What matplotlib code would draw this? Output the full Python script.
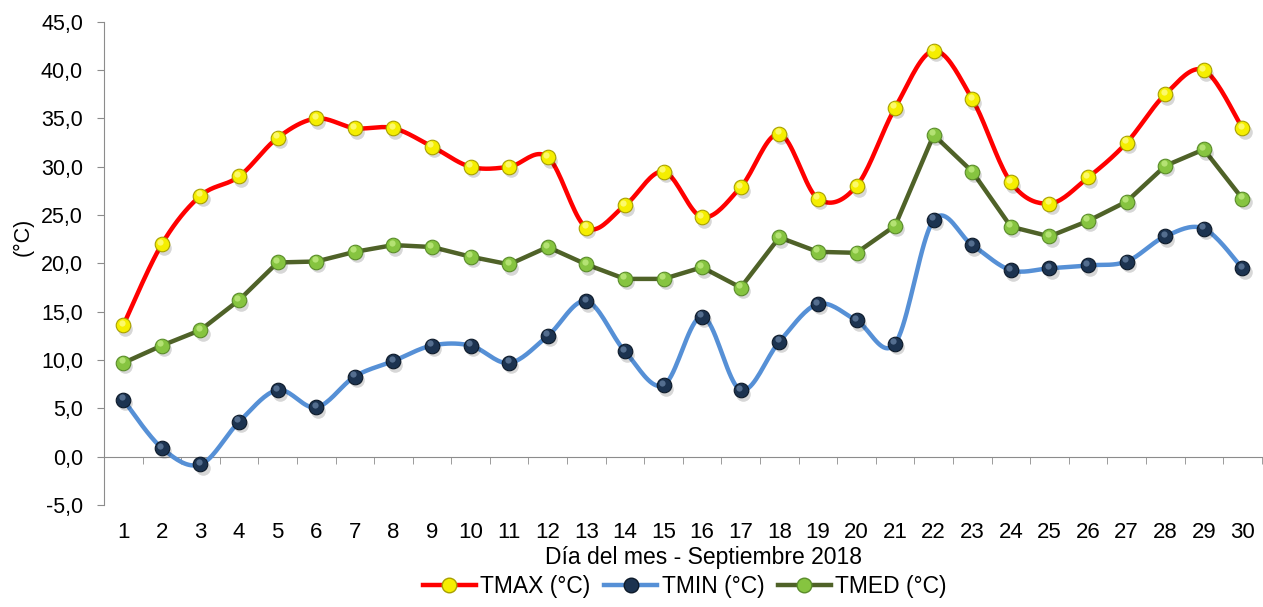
import numpy as np
import matplotlib
matplotlib.use("Agg")
import matplotlib.pyplot as plt
from matplotlib.ticker import FuncFormatter, FixedLocator
from matplotlib.lines import Line2D
import matplotlib.transforms as mtrans

plt.rcParams['font.family'] = ['Liberation Sans', 'DejaVu Sans']

# datos
dias = list(range(1, 31))
tmax = [13.6, 22.0, 27.0, 29.0, 33.0, 35.0, 34.0, 34.0, 32.1, 30.0,
        30.0, 31.0, 23.7, 26.0, 29.5, 24.8, 27.9, 33.4, 26.7, 28.0,
        36.1, 42.0, 37.0, 28.4, 26.2, 28.9, 32.5, 37.5, 40.0, 34.0]
tmin = [5.9, 0.9, -0.8, 3.6, 6.9, 5.1, 8.3, 9.9, 11.5, 11.5,
        9.7, 12.5, 16.1, 10.9, 7.4, 14.5, 6.9, 11.9, 15.8, 14.1,
        11.7, 24.5, 21.9, 19.3, 19.5, 19.8, 20.2, 22.8, 23.6, 19.5]
tmed = [9.7, 11.5, 13.1, 16.2, 20.1, 20.2, 21.2, 21.9, 21.7, 20.7,
        19.9, 21.7, 19.9, 18.4, 18.4, 19.6, 17.5, 22.7, 21.2, 21.1,
        23.9, 33.3, 29.5, 23.8, 22.8, 24.4, 26.4, 30.1, 31.8, 26.7]
series_names = ['TMAX (°C)', 'TMIN (°C)', 'TMED (°C)']


# linea suavizada tipo Excel (Catmull-Rom entre los puntos)
def suavizar(x, y, n=20):
    x = np.asarray(x, float)
    y = np.asarray(y, float)
    px = np.concatenate([[x[0]], x, [x[-1]]])
    py = np.concatenate([[y[0]], y, [y[-1]]])
    xs, ys = [], []
    t = np.linspace(0, 1, n, endpoint=False)
    for i in range(1, len(px) - 2):
        p0, p1, p2, p3 = (np.array([px[j], py[j]]) for j in range(i - 1, i + 3))
        c1 = p1 + (p2 - p0) / 6.0
        c2 = p2 - (p3 - p1) / 6.0
        pts = ((1 - t) ** 3)[:, None] * p1 + (3 * (1 - t) ** 2 * t)[:, None] * c1 \
            + (3 * (1 - t) * t ** 2)[:, None] * c2 + (t ** 3)[:, None] * p2
        xs.extend(pts[:, 0])
        ys.extend(pts[:, 1])
    xs.append(x[-1])
    ys.append(y[-1])
    return np.array(xs), np.array(ys)


fig = plt.figure(figsize=(12.63, 6.07), dpi=100)
ax = fig.add_axes([0.0823, 0.168, 0.9167, 0.796])

MS = 10.5

# marcadores con brillo
def bolitas(x, y, cara, borde, brillo, z):
    ax.plot(x, y, 'o', ms=MS, mfc='#00000028', mec='none', zorder=z,
            transform=ax.transData + mtrans.ScaledTranslation(1.5 / 72, -2.5 / 72, fig.dpi_scale_trans))
    ax.plot(x, y, 'o', ms=MS, mfc=cara, mec=borde, mew=0.8, zorder=z + 0.1)
    ax.plot(x, y, 'o', ms=4.5, mfc=brillo, mec='none', alpha=0.7, zorder=z + 0.2,
            transform=ax.transData + mtrans.ScaledTranslation(-1.2 / 72, 1.8 / 72, fig.dpi_scale_trans))

sx, sy = suavizar(dias, tmax)
ax.plot(sx, sy, color='#ff0000', lw=3.2, zorder=3, solid_capstyle='round')
bolitas(dias, tmax, '#f5ee00', '#a8a000', '#ffff9a', 4)

sx, sy = suavizar(dias, tmin)
ax.plot(sx, sy, color='#5690d6', lw=3.2, zorder=3, solid_capstyle='round')
bolitas(dias, tmin, '#1c3350', '#0d1a2a', '#6d88aa', 4)

ax.plot(dias, tmed, color='#4f6228', lw=3.2, zorder=3)
bolitas(dias, tmed, '#86c440', '#5a8c2a', '#c8f08a', 4)

ax.set_xlim(0.5, 30.5)
ax.set_ylim(-5, 45)
ax.set_yticks(np.arange(-5, 46, 5))
ax.yaxis.set_major_formatter(FuncFormatter(lambda v, p: f"{v:.1f}".replace('.', ',')))

ax.spines['top'].set_visible(False)
ax.spines['right'].set_visible(False)
ax.spines['left'].set_color('#8c8c8c')
ax.spines['bottom'].set_color('#8c8c8c')
ax.spines['bottom'].set_position(('data', 0))

ax.xaxis.set_major_locator(FixedLocator(dias))
ax.xaxis.set_minor_locator(FixedLocator(np.arange(0.5, 31, 1)))
ax.tick_params(axis='x', which='major', length=0, pad=47, labelsize=16)
ax.tick_params(axis='x', which='minor', length=5, color='#8c8c8c')
ax.tick_params(axis='y', length=5, color='#8c8c8c', labelsize=15.5, pad=10)

ax.set_xlabel('Día del mes - Septiembre 2018', fontsize=16.5)
ax.xaxis.label.set_va('center')
ax.xaxis.set_label_coords(0.518, -0.108)
ax.set_ylabel('(°C)', fontsize=15.5)
ax.yaxis.label.set_va('center')
ax.yaxis.set_label_coords(-0.07, 0.555)

handles = [
    Line2D([], [], color='#ff0000', lw=3.2, marker='o', ms=MS, mfc='#f5ee00', mec='#a8a000'),
    Line2D([], [], color='#5690d6', lw=3.2, marker='o', ms=MS, mfc='#1c3350', mec='#0d1a2a'),
    Line2D([], [], color='#4f6228', lw=3.2, marker='o', ms=MS, mfc='#86c440', mec='#5a8c2a'),
]
fig.legend(handles, series_names, loc='center', bbox_to_anchor=(685 / 1263, 1 - 587 / 607), ncol=3,
           frameon=False, fontsize=16.5, handlelength=2.3, handletextpad=0.2, columnspacing=0.6)

fig.savefig('out.png', dpi=100)
